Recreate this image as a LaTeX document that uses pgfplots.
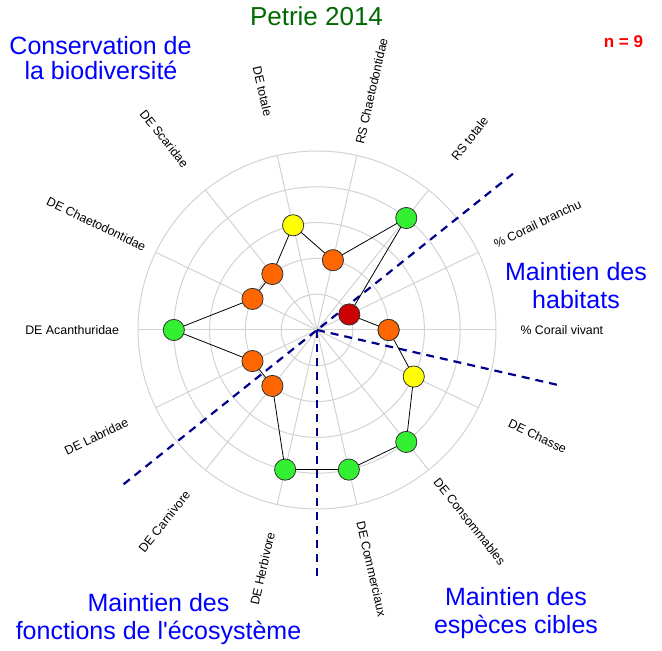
\documentclass[border=0pt]{standalone}
\usepackage{pgfplots}
\pgfplotsset{compat=1.18}
\usepackage{pgfplotstable}
\usepackage{fontspec}
\setmainfont{Liberation Sans}[Ligatures=TeXOff]
\definecolor{cred}{RGB}{204,0,0}
\definecolor{corange}{RGB}{255,102,0}
\definecolor{cyellow}{RGB}{255,255,0}
\definecolor{cgreen}{RGB}{51,240,51}
\definecolor{gridgray}{RGB}{211,211,211}
\definecolor{dnavy}{RGB}{0,0,139}
\definecolor{tgreen}{RGB}{0,105,0}
\definecolor{tblue}{RGB}{0,0,255}

% angle (deg), score (0-5), class
\pgfplotstableread{
ang r c
0       2 o
25.714  1 r
51.429  4 g
77.143  2 o
102.857 3 y
128.571 2 o
154.286 2 o
180     4 g
205.714 2 o
231.429 2 o
257.143 4 g
282.857 4 g
308.571 4 g
334.286 3 y
0       2 o
}\radar

\begin{document}
\begin{tikzpicture}
\begin{axis}[
  x=35.8bp, y=35.8bp,
  xmin=-8.855, xmax=9.637, ymin=-8.939, ymax=9.218,
  hide axis, clip=false,
]
\path (axis cs:-8.855,-8.939) rectangle (axis cs:9.637,9.218);
% grid rings
\pgfplotsinvokeforeach{1,...,5}{
  \draw[gridgray, line width=1bp] (axis cs:0,0) circle[radius=#1*35.8bp];
}
% spokes
\pgfplotsinvokeforeach{0,...,13}{
  \draw[gridgray, line width=1bp] (axis cs:0,0) -- ++(#1*25.7142857:179bp);
}
% group separators
\addplot[dnavy, line width=2.2bp, dash pattern=on 8bp off 6bp, data cs=polar]
  coordinates {(38.571,7) (218.571,7)};
\addplot[dnavy, line width=2.2bp, dash pattern=on 8bp off 6bp, data cs=polar]
  coordinates {(0,0) (347.143,7)};
\addplot[dnavy, line width=2.2bp, dash pattern=on 8bp off 6bp, data cs=polar]
  coordinates {(0,0) (270,7)};
% polygon
\addplot[black, line width=0.8bp, data cs=polar, no marks] table[x=ang, y=r] {\radar};
% markers
\addplot[scatter, only marks, data cs=polar, mark=*, mark size=10.6bp,
  point meta=explicit symbolic,
  scatter/classes={
    r={mark=*, draw=black!80, fill=cred, line width=0.8bp},
    o={mark=*, draw=black!80, fill=corange, line width=0.8bp},
    y={mark=*, draw=black!80, fill=cyellow, line width=0.8bp},
    g={mark=*, draw=black!80, fill=cgreen, line width=0.8bp}}
] table[x=ang, y=r, meta=c] {\radar};
% axis labels
\begin{scope}[every node/.style={font=\fontsize{12.4bp}{14bp}\selectfont, anchor=center, inner sep=0pt}]
\node[rotate=0]      at (axis cs:6.84,0)        {\% Corail vivant};
\node[rotate=25.71]  at (axis cs:6.163,2.968)   {\% Corail branchu};
\node[rotate=51.43]  at (axis cs:4.265,5.348)   {RS totale};
\node[rotate=77.14]  at (axis cs:1.522,6.669)   {RS Chaetodontidae};
\node[rotate=-77.14] at (axis cs:-1.522,6.669)  {DE totale};
\node[rotate=-51.43] at (axis cs:-4.265,5.348)  {DE Scaridae};
\node[rotate=-25.71] at (axis cs:-6.163,2.968)  {DE Chaetodontidae};
\node[rotate=0]      at (axis cs:-6.84,0)       {DE Acanthuridae};
\node[rotate=25.71]  at (axis cs:-6.163,-2.968) {DE Labridae};
\node[rotate=51.43]  at (axis cs:-4.265,-5.348) {DE Carnivore};
\node[rotate=77.14]  at (axis cs:-1.522,-6.669) {DE Herbivore};
\node[rotate=-77.14] at (axis cs:1.522,-6.669)  {DE Commerciaux};
\node[rotate=-51.43] at (axis cs:4.265,-5.348)  {DE Consommables};
\node[rotate=-25.71] at (axis cs:6.163,-2.968)  {DE Chasse};
\end{scope}
% titles
\begin{scope}[every node/.style={anchor=base, inner sep=0pt}]
\node[tgreen, font=\fontsize{26bp}{28bp}\selectfont] at (axis cs:-0.014,8.492) {Petrie 2014};
\node[red, font=\bfseries\fontsize{17bp}{19bp}\selectfont] at (axis cs:8.561,7.877) {n = 9};
\node[tblue, font=\fontsize{25bp}{27bp}\selectfont] at (axis cs:-6.047,7.698) {Conservation de};
\node[tblue, font=\fontsize{25bp}{27bp}\selectfont] at (axis cs:-6.034,6.983) {la biodiversité};
\node[tblue, font=\fontsize{25bp}{27bp}\selectfont] at (axis cs:7.235,1.369) {Maintien des};
\node[tblue, font=\fontsize{25bp}{27bp}\selectfont] at (axis cs:7.235,0.587) {habitats};
\node[tblue, font=\fontsize{25bp}{27bp}\selectfont] at (axis cs:-4.427,-7.877) {Maintien des};
\node[tblue, font=\fontsize{25bp}{27bp}\selectfont] at (axis cs:-4.427,-8.659) {fonctions de l'écosystème};
\node[tblue, font=\fontsize{25bp}{27bp}\selectfont] at (axis cs:5.559,-7.709) {Maintien des};
\node[tblue, font=\fontsize{25bp}{27bp}\selectfont] at (axis cs:5.559,-8.492) {espèces cibles};
\end{scope}
\end{axis}
\end{tikzpicture}
\end{document}
